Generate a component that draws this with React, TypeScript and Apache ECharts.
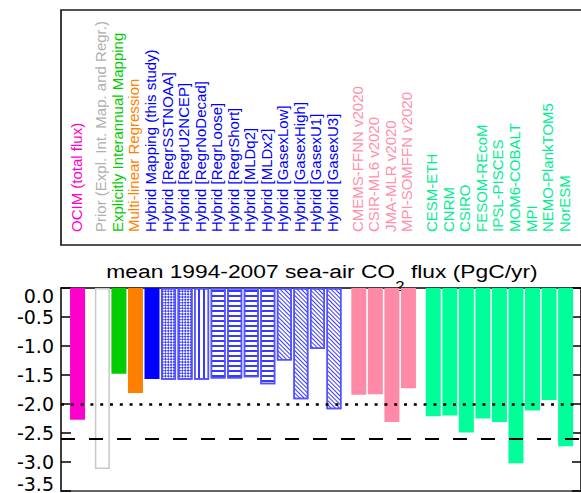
import React, { useEffect, useRef } from "react";
import * as echarts from "echarts";

// ---------------- data ----------------
const ocimNames = ["OCIM (total flux)"];
const ocimFlux = [-2.27];

const productNames = [
  "Prior (Expl. Int. Map. and Regr.)",
  "Explicitly Interannual Mapping",
  "Multi-linear Regression",
  "Hybrid Mapping (this study)",
  "Hybrid [RegrSSTNOAA]",
  "Hybrid [RegrU2NCEP]",
  "Hybrid [RegrNoDecad]",
  "Hybrid [RegrLoose]",
  "Hybrid [RegrShort]",
  "Hybrid [MLDq2]",
  "Hybrid [MLDx2]",
  "Hybrid [GasexLow]",
  "Hybrid [GasexHigh]",
  "Hybrid [GasexU1]",
  "Hybrid [GasexU3]",
];
const productFlux = [-3.12, -1.48, -1.81, -1.57, -1.58, -1.58, -1.58, -1.56, -1.56, -1.54, -1.66, -1.25, -1.92, -1.05, -2.09];

const socomNames = ["CMEMS-FFNN v2020", "CSIR-ML6 v2020", "JMA-MLR v2020", "MPI-SOMFFN v2020"];
const socomFlux = [-1.84, -1.83, -2.31, -1.73];

const modelNames = ["CESM-ETH", "CNRM", "CSIRO", "FESOM-REcoM", "IPSL-PISCES", "MOM6-COBALT", "MPI", "NEMO-PlankTOM5", "NorESM"];
const modelFlux = [-2.21, -2.2, -2.49, -2.25, -2.31, -3.02, -2.11, -1.93, -2.73];

const refDotted = -2.0;
const refDashed = -2.6;
const yMin = -3.5;
const yMax = 0;
const yStep = 0.5;

const titleMain = "mean 1994-2007 sea-air CO";
const titleSub = "2";
const titleTail = " flux (PgC/yr)";

// ---------------- styles ----------------
const productStyles = [
  "prior", "explicit", "mlr", "hybrid",
  "cross", "cross", "vert",
  "horiz", "horiz", "horiz", "horiz",
  "diag", "diag", "diag", "diag",
];

const TEXT_COLOR: Record<string, string> = {
  ocim: "#ff00cc",
  prior: "#b0b0b0",
  explicit: "#00cc00",
  mlr: "#ff8000",
  hybrid: "#0000ff",
  cross: "#0000ff",
  vert: "#0000ff",
  horiz: "#0000ff",
  diag: "#0000ff",
  socom: "#ff8fab",
  model: "#00ee90",
};

const HATCH = "#3a3aff";
const HATCH_BORDER = "#5252ff";

function itemStyleFor(s: string): any {
  const hatchBase = { color: "#ffffff", borderColor: HATCH_BORDER, borderWidth: 1.5 };
  switch (s) {
    case "ocim":
      return { color: "#ff00cc" };
    case "prior":
      return { color: "#ffffff", borderColor: "#c8c8c8", borderWidth: 1.5 };
    case "explicit":
      return { color: "#00cc00" };
    case "mlr":
      return { color: "#ff7f00" };
    case "hybrid":
      return { color: "#0000ff" };
    case "cross":
      return {
        ...hatchBase,
        decal: { symbol: "rect", color: HATCH, dashArrayX: [[2, 2], [0, 2, 2, 0]], dashArrayY: [2, 0], rotation: Math.PI / 4, symbolSize: 1 },
      };
    case "vert":
      return {
        ...hatchBase,
        decal: { symbol: "rect", color: HATCH, dashArrayX: [1, 0], dashArrayY: [1.4, 2.4], rotation: Math.PI / 2, symbolSize: 1 },
      };
    case "horiz":
      return {
        ...hatchBase,
        decal: { symbol: "rect", color: HATCH, dashArrayX: [1, 0], dashArrayY: [1.4, 2.8], rotation: 0, symbolSize: 1 },
      };
    case "diag":
      return {
        ...hatchBase,
        decal: { symbol: "rect", color: HATCH, dashArrayX: [1, 0], dashArrayY: [1, 1.6], rotation: Math.PI / 4, symbolSize: 1 },
      };
    case "socom":
      return { color: "#ff8aa8" };
    default:
      return { color: "#00ff99" };
  }
}

// ---------------- build items ----------------
const groups = [
  { names: ocimNames, values: ocimFlux, styles: ocimNames.map(() => "ocim") },
  { names: productNames, values: productFlux, styles: productStyles },
  { names: socomNames, values: socomFlux, styles: socomNames.map(() => "socom") },
  { names: modelNames, values: modelFlux, styles: modelNames.map(() => "model") },
];
const GROUP_GAP = 0.5;
type Item = { name: string; value: number; style: string; pos: number };
const items: Item[] = [];
{
  let pos = 0;
  groups.forEach((g) => {
    g.names.forEach((n, i) => {
      items.push({ name: n, value: g.values[i], style: g.styles[i], pos });
      pos += 1;
    });
    pos += GROUP_GAP;
  });
}

const X_MIN = -1;
const X_MAX = 30.43;
const FONT_FAMILY = "Liberation Sans";

function measure(text: string, size: number): number {
  const c = document.createElement("canvas").getContext("2d");
  if (!c) return text.length * size * 0.55;
  c.font = `${size}px "${FONT_FAMILY}"`;
  return c.measureText(text).width;
}

const option: any = {
  animation: false,
  backgroundColor: "#ffffff",
  grid: [{ left: 61, top: 288, width: 522, height: 204 }],
  xAxis: [
    {
      gridIndex: 0, type: "value", min: X_MIN, max: X_MAX, position: "top",
      axisLine: { show: true, onZero: false, lineStyle: { color: "#000", width: 1.5 } },
      axisTick: { show: false }, axisLabel: { show: false }, splitLine: { show: false },
    },
    {
      gridIndex: 0, type: "value", min: X_MIN, max: X_MAX, position: "bottom",
      axisLine: { show: true, onZero: false, lineStyle: { color: "#333", width: 1.5 } },
      axisTick: { show: false }, axisLabel: { show: false }, splitLine: { show: false },
    },
  ],
  yAxis: [
    {
      gridIndex: 0, type: "value", min: yMin, max: yMax, interval: yStep, position: "left",
      axisLine: { show: true, onZero: false, lineStyle: { color: "#000", width: 1.5 } },
      axisTick: { show: true, inside: true, length: 10, lineStyle: { color: "#000", width: 1.5 } },
      axisLabel: {
        show: true, margin: 7, color: "#000", fontSize: 19, lineHeight: 15, fontFamily: "DejaVu Sans",
        formatter: (v: number) => v.toFixed(1),
        verticalAlignMaxLabel: "top", verticalAlignMinLabel: "bottom",
      },
      splitLine: { show: false },
    },
    {
      gridIndex: 0, type: "value", min: yMin, max: yMax, interval: yStep, position: "right",
      axisLine: { show: true, onZero: false, lineStyle: { color: "#000", width: 1.5 } },
      axisTick: { show: true, inside: true, length: 9, lineStyle: { color: "#000", width: 1.5 } },
      axisLabel: { show: false }, splitLine: { show: false },
    },
  ],
  series: [
    {
      type: "bar", xAxisIndex: 0, yAxisIndex: 0, barWidth: 15, silent: true,
      data: items.map((it) => ({ value: [it.pos, it.value], itemStyle: itemStyleFor(it.style) })),
      markLine: {
        silent: true, symbol: "none", label: { show: false }, z: 10,
        data: [
          { yAxis: refDotted, lineStyle: { color: "#000", width: 2.5, type: [3, 6.8] } },
          { yAxis: refDashed, lineStyle: { color: "#000", width: 2, type: [14, 14] } },
        ],
      },
    },
  ],
};

function buildGraphics(chart: any): any[] {
  const out: any[] = [];
  // legend frame
  out.push({
    type: "rect", silent: true,
    shape: { x: 61, y: 10, width: 540, height: 235 },
    style: { fill: "none", stroke: "#1a1a1a", lineWidth: 1.7 },
  });
  // legend names, one column above each bar (x taken from the axis scale)
  items.forEach((it) => {
    const p = chart.convertToPixel({ xAxisIndex: 0, yAxisIndex: 0 }, [it.pos, 0]);
    out.push({
      type: "text", silent: true,
      x: p[0] - 1.5, y: 232, rotation: Math.PI / 2,
      style: {
        text: it.name, fill: TEXT_COLOR[it.style],
        font: `15px "${FONT_FAMILY}"`,
        align: "left", verticalAlign: "middle",
      },
    });
  });
  // title with subscript
  const wMain = measure(titleMain, 19);
  const wSub = measure(titleSub, 14);
  const wTail = measure(titleTail, 19);
  const total = wMain + wSub + wTail;
  const x0 = -total / 2;
  out.push({
    type: "group", silent: true, x: 322, y: 0, scaleX: 1.2,
    children: [
      { type: "text", x: x0, y: 271.5, style: { text: titleMain, fill: "#000", font: `19px "${FONT_FAMILY}"`, align: "left", verticalAlign: "middle" } },
      { type: "text", x: x0 + wMain, y: 286, style: { text: titleSub, fill: "#000", font: `14px "${FONT_FAMILY}"`, align: "left", verticalAlign: "middle" } },
      { type: "text", x: x0 + wMain + wSub, y: 271.5, style: { text: titleTail, fill: "#000", font: `19px "${FONT_FAMILY}"`, align: "left", verticalAlign: "middle" } },
    ],
  });
  return out;
}

export default function App() {
  const ref = useRef<HTMLDivElement>(null);
  useEffect(() => {
    const chart = echarts.init(ref.current!, null, { renderer: "svg" });
    chart.setOption(option);
    chart.setOption({ graphic: buildGraphics(chart) });
    return () => chart.dispose();
  }, []);
  return (
    <div
      ref={ref}
      style={{ position: "fixed", left: 0, top: 0, width: 581, height: 493, background: "#fff" }}
    />
  );
}
